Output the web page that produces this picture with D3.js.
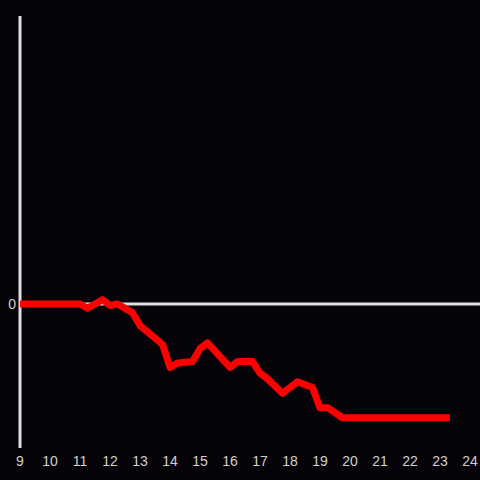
<!DOCTYPE html>
<html>
  <head>
    <meta charset="UTF-8" />
    <script src="https://cdn.jsdelivr.net/npm/d3@7"></script>
    <style>
      html, body { margin: 0; padding: 0; background: #050308; }
    </style>
  </head>
  <body>
    <svg></svg>
    <script>
      // data: hour of day -> value
      const hours = [9, 11, 11.25, 11.75, 12, 12.25, 12.75, 13, 13.75, 14, 14.25, 14.75, 15, 15.25,
        16, 16.25, 16.75, 17, 17.25, 17.75, 18.25, 18.75, 19, 19.25, 19.75, 23.33]
      const values = [0, 0, -3, 3, -1, 0, -6, -15, -28, -44, -41, -40, -31, -27,
        -44, -40, -40, -48, -52, -62, -54, -58, -72, -72, -79, -79]
      const xTicks = d3.range(9, 25)
      const yTicks = [0]

      const width = 480
      const height = 480

      const svg = d3
        .select('svg')
        .attr('width', width)
        .attr('height', height)
        .style('background', '#050308')
        .style('font', '14px "Liberation Sans", Arial, sans-serif')

      const x = d3.scaleLinear([9, 24], [20, 470])
      const y = d3.scaleLinear([-100, 200], [448, 16])

      const data = hours.map((h, i) => [h, values[i]])

      // zero line
      svg
        .append('line')
        .attr('x1', x(9))
        .attr('x2', width)
        .attr('y1', y(0))
        .attr('y2', y(0))
        .attr('stroke', '#e0e0e0')
        .attr('stroke-width', 3)

      // y axis line
      svg
        .append('line')
        .attr('x1', x(9))
        .attr('x2', x(9))
        .attr('y1', y(200))
        .attr('y2', y(-100))
        .attr('stroke', '#e0e0e0')
        .attr('stroke-width', 3)

      // x tick labels
      svg
        .append('g')
        .selectAll('text')
        .data(xTicks)
        .join('text')
        .attr('x', (d) => x(d))
        .attr('y', 461)
        .attr('dy', '0.35em')
        .attr('text-anchor', 'middle')
        .attr('fill', '#d0d0d0')
        .text((d) => d)

      // y tick labels
      svg
        .append('g')
        .selectAll('text')
        .data(yTicks)
        .join('text')
        .attr('x', 16)
        .attr('y', (d) => y(d))
        .attr('dy', '0.35em')
        .attr('text-anchor', 'end')
        .attr('fill', '#d0d0d0')
        .text((d) => d)

      // the series
      svg
        .append('path')
        .datum(data)
        .attr('fill', 'none')
        .attr('stroke', '#ff0000')
        .attr('stroke-width', 7)
        .attr('stroke-linejoin', 'round')
        .attr('d', d3.line().x((d) => x(d[0])).y((d) => y(d[1])))
    </script>
  </body>
</html>
